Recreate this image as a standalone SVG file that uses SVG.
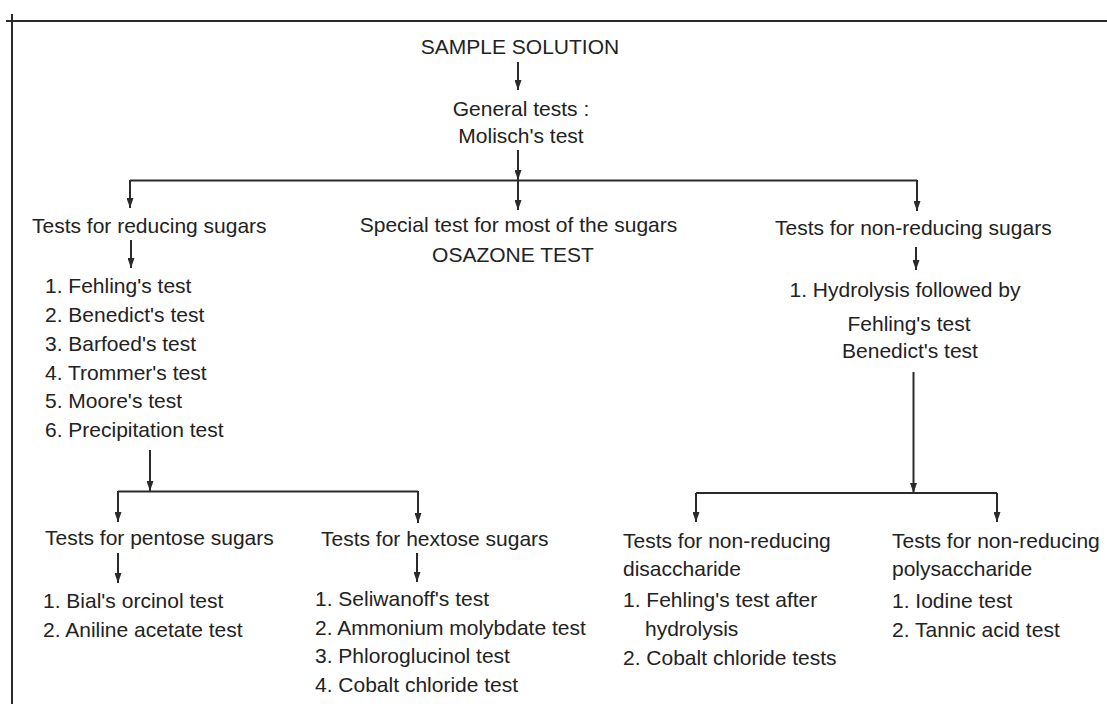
<svg xmlns="http://www.w3.org/2000/svg" width="1107" height="704" viewBox="0 0 1107 704">
  <style>
    text { font-family: "Liberation Sans", Arial, sans-serif; font-size: 21px; fill: #222; }
    .c { text-anchor: middle; }
    .ln { fill: none; stroke: #2a2a2a; stroke-width: 2; }
    .ar { fill: none; stroke: #2a2a2a; stroke-width: 2; marker-end: url(#ah); }
  </style>
  <defs>
    <marker id="ah" viewBox="0 0 10 7" markerUnits="userSpaceOnUse" markerWidth="10" markerHeight="7" refX="10" refY="3.5" orient="auto">
      <path d="M0,0 L10,3.5 L0,7 z" fill="#2a2a2a"/>
    </marker>
  </defs>
  <rect width="1107" height="704" fill="#fff"/>

  <g id="frame">
    <path class="ln" d="M6 21 H1107"/>
    <path class="ln" d="M12 14 V704"/>
  </g>

  <g id="connectors">
    <path class="ar" d="M518 62 V90"/>
    <path class="ar" d="M518 150 V180"/>
    <path class="ln" d="M130 180.5 H917"/>
    <path class="ar" d="M130 180 V208"/>
    <path class="ar" d="M518 180 V210"/>
    <path class="ar" d="M917 180 V211"/>
    <path class="ar" d="M131 240 V268"/>
    <path class="ar" d="M916 247 V270"/>
    <path class="ar" d="M913.5 372 V493"/>
    <path class="ln" d="M696 493 H997"/>
    <path class="ar" d="M696 493 V522"/>
    <path class="ar" d="M997 493 V522"/>
    <path class="ar" d="M150 450 V491"/>
    <path class="ln" d="M118 491.5 H418"/>
    <path class="ar" d="M118 491 V522"/>
    <path class="ar" d="M418 491 V523"/>
    <path class="ar" d="M118 553 V583"/>
    <path class="ar" d="M417 553 V582"/>
  </g>

  <g id="sample">
    <text class="c" x="520" y="54">SAMPLE SOLUTION</text>
  </g>
  <g id="general">
    <text class="c" x="521" y="116">General tests :</text>
    <text class="c" x="521" y="143">Molisch's test</text>
  </g>
  <g id="reducing">
    <text x="32" y="233">Tests for reducing sugars</text>
  </g>
  <g id="reducing-list">
    <text x="45" y="293">1. Fehling's test</text>
    <text x="45" y="322">2. Benedict's test</text>
    <text x="45" y="351">3. Barfoed's test</text>
    <text x="45" y="380">4. Trommer's test</text>
    <text x="45" y="408">5. Moore's test</text>
    <text x="45" y="437">6. Precipitation test</text>
  </g>
  <g id="osazone">
    <text class="c" x="518.5" y="232">Special test for most of the sugars</text>
    <text class="c" x="513" y="262">OSAZONE TEST</text>
  </g>
  <g id="nonreducing">
    <text x="775" y="235">Tests for non-reducing sugars</text>
  </g>
  <g id="hydrolysis">
    <text class="c" x="905" y="297">1. Hydrolysis followed by</text>
    <text class="c" x="909" y="331">Fehling's test</text>
    <text class="c" x="910" y="358">Benedict's test</text>
  </g>
  <g id="pentose">
    <text x="45" y="545">Tests for pentose sugars</text>
    <text x="43" y="608">1. Bial's orcinol test</text>
    <text x="43" y="637">2. Aniline acetate test</text>
  </g>
  <g id="hextose">
    <text x="321" y="546">Tests for hextose sugars</text>
    <text x="315" y="606">1. Seliwanoff's test</text>
    <text x="315" y="635">2. Ammonium molybdate test</text>
    <text x="315" y="663">3. Phloroglucinol test</text>
    <text x="315" y="692">4. Cobalt chloride test</text>
  </g>
  <g id="disaccharide">
    <text x="623" y="548">Tests for non-reducing</text>
    <text x="623" y="576">disaccharide</text>
    <text x="623" y="607">1. Fehling's test after</text>
    <text x="645" y="636">hydrolysis</text>
    <text x="623" y="665">2. Cobalt chloride tests</text>
  </g>
  <g id="polysaccharide">
    <text x="892" y="548">Tests for non-reducing</text>
    <text x="892" y="576">polysaccharide</text>
    <text x="892" y="608">1. Iodine test</text>
    <text x="892" y="637">2. Tannic acid test</text>
  </g>
</svg>
